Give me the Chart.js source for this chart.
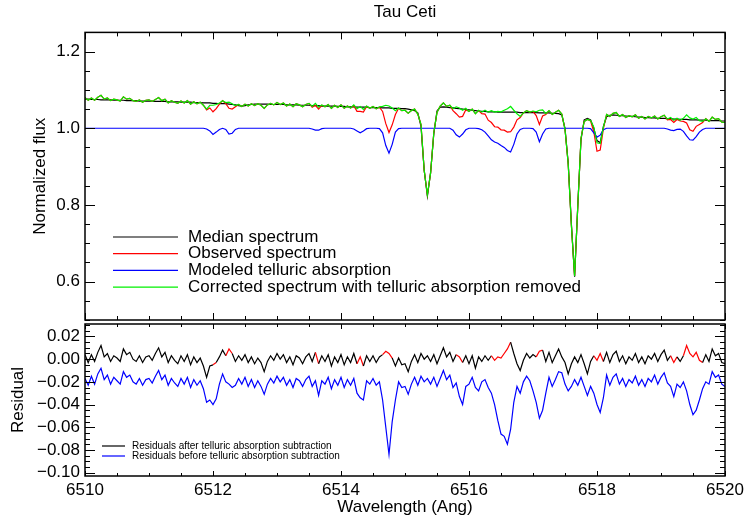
<!DOCTYPE html>
<html>
<head>
<meta charset="utf-8">
<script src="https://cdn.jsdelivr.net/npm/chart.js@4.4.0/dist/chart.umd.min.js"></script>
<style>
  html, body { margin: 0; padding: 0; background: #fff; }
  #wrap { position: relative; width: 748px; height: 521px; }
  canvas { position: absolute; left: 0; }
  #topChart { top: 0; }
  #botChart { top: 322px; }
</style>
</head>
<body>
<div id="wrap">
  <canvas id="topChart" width="748" height="322"></canvas>
  <canvas id="botChart" width="748" height="199"></canvas>
</div>
<script>
const WL_START = 6510;
const WL_STEP = 0.05;

const median = [
  1.076,1.076,1.075,1.075,1.075,1.074,1.074,1.074,1.074,1.073,1.073,1.073,1.073,1.072,1.072,1.072,1.072,1.071,1.071,1.071,
  1.071,1.071,1.070,1.070,1.070,1.070,1.069,1.069,1.069,1.069,1.068,1.068,1.068,1.068,1.067,1.067,1.067,1.066,1.066,1.066,
  1.065,1.065,1.064,1.064,1.064,1.063,1.062,1.061,1.059,1.058,1.059,1.061,1.062,1.063,1.063,1.063,1.063,1.063,1.062,1.062,
  1.062,1.062,1.062,1.061,1.061,1.061,1.061,1.060,1.060,1.060,1.060,1.059,1.059,1.059,1.058,1.058,1.058,1.058,1.058,1.057,
  1.057,1.057,1.056,1.056,1.056,1.055,1.055,1.055,1.055,1.054,1.054,1.054,1.054,1.053,1.053,1.053,1.052,1.052,1.052,1.051,
  1.051,1.050,1.048,1.046,1.040,1.005,0.890,0.823,0.885,0.985,1.045,1.055,1.056,1.055,1.054,1.053,1.052,1.051,1.050,1.049,
  1.048,1.047,1.046,1.045,1.044,1.044,1.043,1.043,1.043,1.042,1.042,1.042,1.042,1.042,1.042,1.042,1.041,1.041,1.041,1.041,
  1.041,1.041,1.040,1.040,1.040,1.040,1.039,1.039,1.038,1.035,1.000,0.910,0.750,0.613,0.800,0.970,1.022,1.026,1.022,1.000,
  0.968,0.962,1.005,1.030,1.034,1.035,1.034,1.033,1.033,1.032,1.031,1.031,1.030,1.029,1.029,1.028,1.028,1.027,1.027,1.026,
  1.026,1.026,1.025,1.025,1.024,1.024,1.023,1.023,1.023,1.022,1.022,1.022,1.021,1.021,1.021,1.020,1.020,1.020,1.020,1.019,
  1.019
];

const observed = [
  1.080,1.073,1.079,1.073,1.081,1.086,1.076,1.079,1.072,1.076,1.074,1.071,1.082,1.076,1.078,1.072,1.070,1.074,1.068,1.073,
  1.074,1.070,1.075,1.080,1.072,1.076,1.066,1.072,1.068,1.065,1.071,1.066,1.072,1.063,1.069,1.064,1.068,1.060,1.048,1.053,
  1.043,1.051,1.063,1.072,1.064,1.052,1.050,1.056,1.062,1.057,1.063,1.058,1.064,1.059,1.064,1.060,1.052,1.061,1.065,1.061,
  1.067,1.062,1.066,1.058,1.063,1.056,1.064,1.061,1.056,1.062,1.065,1.055,1.060,1.050,1.060,1.056,1.062,1.052,1.060,1.054,
  1.061,1.052,1.058,1.053,1.059,1.044,1.044,1.042,1.057,1.052,1.057,1.051,1.055,1.044,1.012,0.989,1.009,1.036,1.052,1.046,
  1.047,1.039,1.046,1.050,1.037,1.010,0.890,0.826,0.883,0.989,1.041,1.058,1.066,1.057,1.060,1.046,1.038,1.029,1.031,1.048,
  1.044,1.050,1.038,1.046,1.038,1.037,1.021,1.015,1.004,1.003,0.996,0.995,0.990,0.991,1.003,1.022,1.028,1.040,1.046,1.042,
  1.044,1.033,1.010,1.032,1.036,1.046,1.036,1.042,1.047,1.037,0.997,0.907,0.746,0.615,0.797,0.974,1.018,1.023,1.019,0.991,
  0.940,0.943,0.999,1.036,1.031,1.039,1.041,1.031,1.036,1.028,1.033,1.030,1.035,1.026,1.031,1.024,1.031,1.027,1.032,1.024,
  1.030,1.034,1.022,1.023,1.015,1.023,1.019,1.018,1.014,0.996,0.992,1.005,1.010,1.015,1.025,1.018,1.029,1.023,1.025,1.016,
  1.015
];

const telluric = [
  1,1,1,1,1,1,1,1,1,1,1,1,1,1,1,1,1,1,1,1,
  1,1,1,1,1,1,1,1,1,1,1,1,1,1,1,1,1,1,0.998,0.993,
  0.984,0.990,0.997,1,0.997,0.985,0.987,0.997,1,1,1,1,1,1,1,1,1,1,1,1,
  1,1,1,1,1,1,1,1,1,1,1,0.998,0.995,0.995,0.999,1,1,1,1,1,
  1,1,1,1,0.998,0.993,0.988,0.993,0.999,1,1,1,0.999,0.988,0.955,0.935,0.958,0.990,0.999,1,
  1,1,1,1,1,1,1,1,1,1,1,1,1,1,1,0.995,0.983,0.977,0.985,0.996,
  1,1,1,0.999,0.996,0.990,0.980,0.970,0.964,0.961,0.955,0.950,0.942,0.938,0.958,0.985,0.997,1,1,1,
  0.999,0.990,0.965,0.985,0.998,1,1,1,1,1,1,1,1,1,1,1,1,1,0.999,0.988,
  0.977,0.982,0.996,1,1,1,1,1,1,1,1,1,1,1,1,1,1,1,1,1,
  1,1,0.998,0.995,0.994,0.997,0.998,0.992,0.980,0.970,0.969,0.978,0.990,0.997,1,1,1,1,1,1,
  1
];

const corrected = [
  1.080,1.073,1.079,1.073,1.081,1.086,1.076,1.079,1.072,1.076,1.074,1.071,1.082,1.076,1.078,1.072,1.070,1.074,1.068,1.073,
  1.074,1.070,1.075,1.080,1.072,1.076,1.066,1.072,1.068,1.065,1.071,1.066,1.072,1.063,1.069,1.064,1.068,1.060,1.050,1.060,
  1.060,1.062,1.066,1.072,1.067,1.068,1.064,1.059,1.062,1.057,1.063,1.058,1.064,1.059,1.064,1.060,1.052,1.061,1.065,1.061,
  1.067,1.062,1.066,1.058,1.063,1.056,1.064,1.061,1.056,1.062,1.065,1.057,1.065,1.055,1.061,1.056,1.062,1.052,1.060,1.054,
  1.061,1.052,1.058,1.053,1.061,1.051,1.057,1.049,1.058,1.052,1.057,1.051,1.056,1.057,1.060,1.058,1.053,1.046,1.053,1.046,
  1.047,1.039,1.046,1.050,1.037,1.010,0.890,0.826,0.883,0.989,1.041,1.058,1.066,1.057,1.060,1.051,1.056,1.053,1.047,1.052,
  1.044,1.050,1.038,1.047,1.042,1.047,1.042,1.046,1.042,1.044,1.043,1.047,1.051,1.057,1.047,1.038,1.031,1.040,1.046,1.042,
  1.045,1.043,1.047,1.048,1.038,1.046,1.036,1.042,1.047,1.037,0.997,0.907,0.746,0.615,0.797,0.974,1.018,1.023,1.020,1.003,
  0.962,0.960,1.003,1.036,1.031,1.039,1.041,1.031,1.036,1.028,1.033,1.030,1.035,1.026,1.031,1.024,1.031,1.027,1.032,1.024,
  1.030,1.034,1.024,1.028,1.021,1.026,1.021,1.026,1.035,1.027,1.024,1.028,1.020,1.018,1.025,1.018,1.029,1.023,1.025,1.016,
  1.015
];

const residAfter = [
   0.004,-0.003, 0.004,-0.002, 0.006, 0.012, 0.002, 0.005,-0.002, 0.003, 0.001,-0.002, 0.009, 0.004, 0.006, 0.000,-0.002, 0.003,-0.003, 0.002,
   0.003,-0.001, 0.005, 0.010, 0.002, 0.006,-0.003, 0.003,-0.001,-0.004, 0.003,-0.002, 0.004,-0.005, 0.002,-0.003, 0.001,-0.006,-0.016,-0.006,
  -0.005,-0.003, 0.002, 0.008, 0.003, 0.009, 0.005,-0.002, 0.003,-0.001, 0.004,-0.003, 0.002,-0.004, 0.001,-0.003,-0.011,-0.002, 0.003,-0.001,
   0.005, 0.000, 0.004,-0.003, 0.002,-0.005, 0.003, 0.001,-0.004, 0.002, 0.005,-0.002, 0.006,-0.004, 0.003,-0.002, 0.004,-0.006, 0.002,-0.003,
   0.004,-0.005, 0.002,-0.003, 0.005,-0.004, 0.002,-0.006, 0.003,-0.002, 0.003,-0.003, 0.002, 0.004, 0.007, 0.005, 0.001,-0.006, 0.001,-0.005,
  -0.004,-0.011,-0.002, 0.004,-0.003, 0.005, 0.000, 0.003,-0.002, 0.004,-0.004, 0.003, 0.010, 0.002, 0.006,-0.002, 0.004, 0.002,-0.003, 0.003,
  -0.004, 0.003,-0.008, 0.002,-0.002, 0.003,-0.001, 0.003,-0.001, 0.002, 0.001, 0.005, 0.009, 0.015, 0.005,-0.004,-0.010,-0.001, 0.005, 0.001,
   0.004, 0.002, 0.007, 0.008,-0.002, 0.006,-0.003, 0.003, 0.009, 0.002,-0.003,-0.013,-0.004, 0.002,-0.003, 0.004,-0.004,-0.013,-0.002, 0.003,
  -0.001, 0.005,-0.002, 0.006,-0.003, 0.004, 0.007,-0.002, 0.003,-0.004, 0.002,-0.001, 0.005,-0.003, 0.002,-0.004, 0.003, 0.000, 0.005,-0.002,
   0.004, 0.008,-0.001, 0.003,-0.003, 0.002,-0.002, 0.003, 0.012, 0.005, 0.002, 0.006,-0.001,-0.003, 0.004,-0.002, 0.009, 0.003, 0.005,-0.003,
  -0.004
];

const residBefore = [
  -0.017,-0.023,-0.015,-0.022,-0.013,-0.008,-0.018,-0.014,-0.022,-0.016,-0.019,-0.022,-0.011,-0.016,-0.014,-0.020,-0.022,-0.017,-0.023,-0.018,
  -0.017,-0.021,-0.015,-0.010,-0.018,-0.014,-0.023,-0.017,-0.021,-0.024,-0.017,-0.022,-0.016,-0.025,-0.018,-0.023,-0.019,-0.026,-0.038,-0.036,
  -0.040,-0.035,-0.022,-0.013,-0.020,-0.022,-0.025,-0.023,-0.017,-0.022,-0.016,-0.024,-0.018,-0.025,-0.019,-0.024,-0.031,-0.022,-0.017,-0.021,
  -0.015,-0.020,-0.016,-0.023,-0.018,-0.025,-0.017,-0.019,-0.024,-0.018,-0.015,-0.024,-0.019,-0.032,-0.019,-0.022,-0.016,-0.026,-0.018,-0.023,
  -0.016,-0.025,-0.018,-0.023,-0.017,-0.030,-0.034,-0.036,-0.019,-0.022,-0.017,-0.023,-0.020,-0.036,-0.060,-0.084,-0.055,-0.036,-0.020,-0.025,
  -0.024,-0.031,-0.022,-0.016,-0.023,-0.015,-0.020,-0.017,-0.022,-0.016,-0.024,-0.017,-0.010,-0.018,-0.014,-0.025,-0.021,-0.033,-0.040,-0.024,
  -0.022,-0.016,-0.025,-0.028,-0.020,-0.018,-0.025,-0.030,-0.040,-0.054,-0.066,-0.068,-0.075,-0.062,-0.038,-0.024,-0.030,-0.020,-0.015,-0.019,
  -0.028,-0.038,-0.052,-0.045,-0.030,-0.016,-0.024,-0.018,-0.011,-0.012,-0.022,-0.028,-0.024,-0.018,-0.023,-0.016,-0.024,-0.032,-0.024,-0.030,
  -0.040,-0.047,-0.034,-0.014,-0.023,-0.016,-0.013,-0.022,-0.017,-0.024,-0.018,-0.021,-0.015,-0.023,-0.018,-0.024,-0.017,-0.020,-0.014,-0.022,
  -0.016,-0.012,-0.021,-0.024,-0.033,-0.022,-0.025,-0.020,-0.028,-0.040,-0.049,-0.045,-0.036,-0.026,-0.020,-0.022,-0.011,-0.016,-0.014,-0.022,
  -0.024
];

// wavelength ranges drawn in red on the "after" residual (telluric-affected pixels)
const flaggedRanges = [
  [6511.98, 6512.06], [6512.22, 6512.30], [6513.59, 6513.64], [6514.26, 6514.33],
  [6514.65, 6514.81], [6515.78, 6515.91], [6516.37, 6516.67], [6517.04, 6517.17],
  [6517.96, 6518.08], [6519.17, 6519.24], [6519.35, 6519.63]
];

const wavelengthTicks = [6510, 6512, 6514, 6516, 6518, 6520];
const fluxTicks = [0.6, 0.8, 1.0, 1.2];
const residTicks = [0.02, 0.00, -0.02, -0.04, -0.06, -0.08, -0.10];

const topLegendLabels = ['Median spectrum', 'Observed spectrum', 'Modeled telluric absorption',
                         'Corrected spectrum with telluric absorption removed'];
const botLegendLabels = ['Residuals after telluric absorption subtraction',
                         'Residuals before telluric absorption subtraction'];

/* ---------- styling ---------- */
const BLACK = '#000000', RED = '#ff0000', BLUE = '#0000ff', GREEN = '#00f000';
const FONT = '"Liberation Sans", Arial, Helvetica, sans-serif';
Chart.defaults.font.family = FONT;
Chart.defaults.color = '#000';

const wavelength = median.map((_, i) => +(WL_START + i * WL_STEP).toFixed(2));
const pts = arr => arr.map((v, i) => ({ x: wavelength[i], y: v }));
const isFlagged = w => flaggedRanges.some(r => w >= r[0] && w <= r[1]);

// fixed axis sizes so both panels line up like the IDL plot
const fixY = s => { s.width = 85; s.paddingTop = 0; s.paddingBottom = 0; };

// IDL-style box with inward ticks on all four sides
function frameTicks(cfg) {
  return {
    id: 'frameTicks',
    afterDraw(chart) {
      const { ctx, chartArea: a } = chart;
      const xs = chart.scales.x, ys = chart.scales.y;
      const isMajor = (v, step) => Math.abs(v / step - Math.round(v / step)) < 1e-6;
      ctx.save();
      ctx.strokeStyle = '#000';
      ctx.lineWidth = 1;
      ctx.beginPath();
      for (let k = Math.ceil(xs.min / cfg.xMinor - 1e-6); k * cfg.xMinor <= xs.max + 1e-9; k++) {
        const v = k * cfg.xMinor;
        const px = Math.round(xs.getPixelForValue(v)) + 0.5;
        const len = isMajor(v, cfg.xMajor) ? cfg.xLen[0] : cfg.xLen[1];
        ctx.moveTo(px, a.bottom); ctx.lineTo(px, a.bottom - len);
        ctx.moveTo(px, a.top); ctx.lineTo(px, a.top + len);
      }
      for (let k = Math.ceil(ys.min / cfg.yMinor - 1e-6); k * cfg.yMinor <= ys.max + 1e-9; k++) {
        const v = k * cfg.yMinor;
        const py = Math.round(ys.getPixelForValue(v)) + 0.5;
        const len = isMajor(v, cfg.yMajor) ? cfg.yLen[0] : cfg.yLen[1];
        ctx.moveTo(a.left, py); ctx.lineTo(a.left + len, py);
        ctx.moveTo(a.right, py); ctx.lineTo(a.right - len, py);
      }
      ctx.stroke();
      ctx.lineWidth = 1.5;
      ctx.strokeRect(a.left, a.top, a.right - a.left, a.bottom - a.top);
      ctx.restore();
    }
  };
}

// legend drawn inside the plot, line sample + label
function lineLegend(cfg) {
  return {
    id: 'lineLegend',
    afterDraw(chart) {
      const ctx = chart.ctx;
      ctx.save();
      ctx.font = cfg.size + 'px ' + FONT;
      ctx.textBaseline = 'middle';
      ctx.fillStyle = '#000';
      cfg.labels.forEach((text, i) => {
        const y = cfg.y + i * cfg.dy;
        ctx.strokeStyle = cfg.colors[i];
        ctx.lineWidth = 1.2;
        ctx.beginPath();
        ctx.moveTo(cfg.x0, y); ctx.lineTo(cfg.x1, y);
        ctx.stroke();
        ctx.fillText(text, cfg.xText, y);
      });
      ctx.restore();
    }
  };
}

const lineDefaults = { borderWidth: 1.2, pointRadius: 0, tension: 0, fill: false };

/* ---------- top panel: spectra ---------- */
new Chart(document.getElementById('topChart'), {
  type: 'line',
  data: {
    datasets: [
      { ...lineDefaults, label: topLegendLabels[3], data: pts(corrected), borderColor: GREEN, order: 0 },
      { ...lineDefaults, label: topLegendLabels[2], data: pts(telluric), borderColor: BLUE, order: 1 },
      { ...lineDefaults, label: topLegendLabels[1], data: pts(observed), borderColor: RED, order: 2 },
      { ...lineDefaults, label: topLegendLabels[0], data: pts(median), borderColor: BLACK, order: 3 }
    ]
  },
  options: {
    responsive: false,
    animation: false,
    devicePixelRatio: 1,
    layout: { padding: { left: 0, right: 23, top: 0, bottom: 2 } },
    plugins: {
      legend: { display: false },
      tooltip: { enabled: false },
      title: {
        display: true, text: 'Tau Ceti', fullSize: false, color: '#000',
        font: { size: 17, weight: 'normal' }, padding: { top: 2, bottom: 10 }
      }
    },
    scales: {
      x: { type: 'linear', min: 6510, max: 6520, display: false },
      y: {
        min: 0.5, max: 1.25,
        afterFit: fixY,
        afterBuildTicks: s => { s.ticks = fluxTicks.map(v => ({ value: v })); },
        grid: { display: false, drawTicks: false },
        border: { display: false },
        ticks: { padding: 5, color: '#000', font: { size: 17 }, autoSkip: false, callback: v => v.toFixed(1) },
        title: { display: true, text: 'Normalized flux', color: '#000', font: { size: 17 }, padding: { top: 30 } }
      }
    }
  },
  plugins: [
    frameTicks({ xMajor: 2, xMinor: 0.5, xLen: [7, 4], yMajor: 0.2, yMinor: 0.05, yLen: [10, 5] }),
    lineLegend({ labels: topLegendLabels, colors: [BLACK, RED, BLUE, GREEN],
                 x0: 113, x1: 178, xText: 188, y: 237, dy: 16.7, size: 17 })
  ]
});

/* ---------- bottom panel: residuals ---------- */
new Chart(document.getElementById('botChart'), {
  type: 'line',
  data: {
    datasets: [
      {
        ...lineDefaults, label: botLegendLabels[0], data: pts(residAfter), borderColor: BLACK, order: 0,
        segment: { borderColor: c => isFlagged((c.p0.parsed.x + c.p1.parsed.x) / 2) ? RED : undefined }
      },
      { ...lineDefaults, label: botLegendLabels[1], data: pts(residBefore), borderColor: BLUE, order: 1 }
    ]
  },
  options: {
    responsive: false,
    animation: false,
    devicePixelRatio: 1,
    layout: { padding: { left: 0, right: 23, top: 2, bottom: 0 } },
    plugins: { legend: { display: false }, tooltip: { enabled: false } },
    scales: {
      x: {
        type: 'linear', min: 6510, max: 6520, position: 'bottom',
        afterFit: s => { s.height = 45; },
        afterBuildTicks: s => { s.ticks = wavelengthTicks.map(v => ({ value: v })); },
        grid: { display: false, drawTicks: false },
        border: { display: false },
        ticks: { padding: 4, color: '#000', font: { size: 17 }, autoSkip: false, maxRotation: 0, callback: v => String(v) },
        title: { display: true, text: 'Wavelength (Ang)', color: '#000', font: { size: 17 }, padding: { top: 0, bottom: 3 } }
      },
      y: {
        min: -0.103, max: 0.031,
        afterFit: fixY,
        afterBuildTicks: s => { s.ticks = residTicks.map(v => ({ value: v })); },
        grid: { display: false, drawTicks: false },
        border: { display: false },
        ticks: { padding: 5, color: '#000', font: { size: 17 }, autoSkip: false,
                 callback: v => (v < -1e-9 ? '\u2212' : '') + Math.abs(v).toFixed(2) },
        title: { display: true, text: 'Residual', color: '#000', font: { size: 17 }, padding: { top: 8 } }
      }
    }
  },
  plugins: [
    frameTicks({ xMajor: 2, xMinor: 0.5, xLen: [5, 3], yMajor: 0.02, yMinor: 0.005, yLen: [10, 5] }),
    lineLegend({ labels: botLegendLabels, colors: [BLACK, BLUE],
                 x0: 102, x1: 125, xText: 132, y: 124, dy: 10, size: 10 })
  ]
});
</script>
</body>
</html>
